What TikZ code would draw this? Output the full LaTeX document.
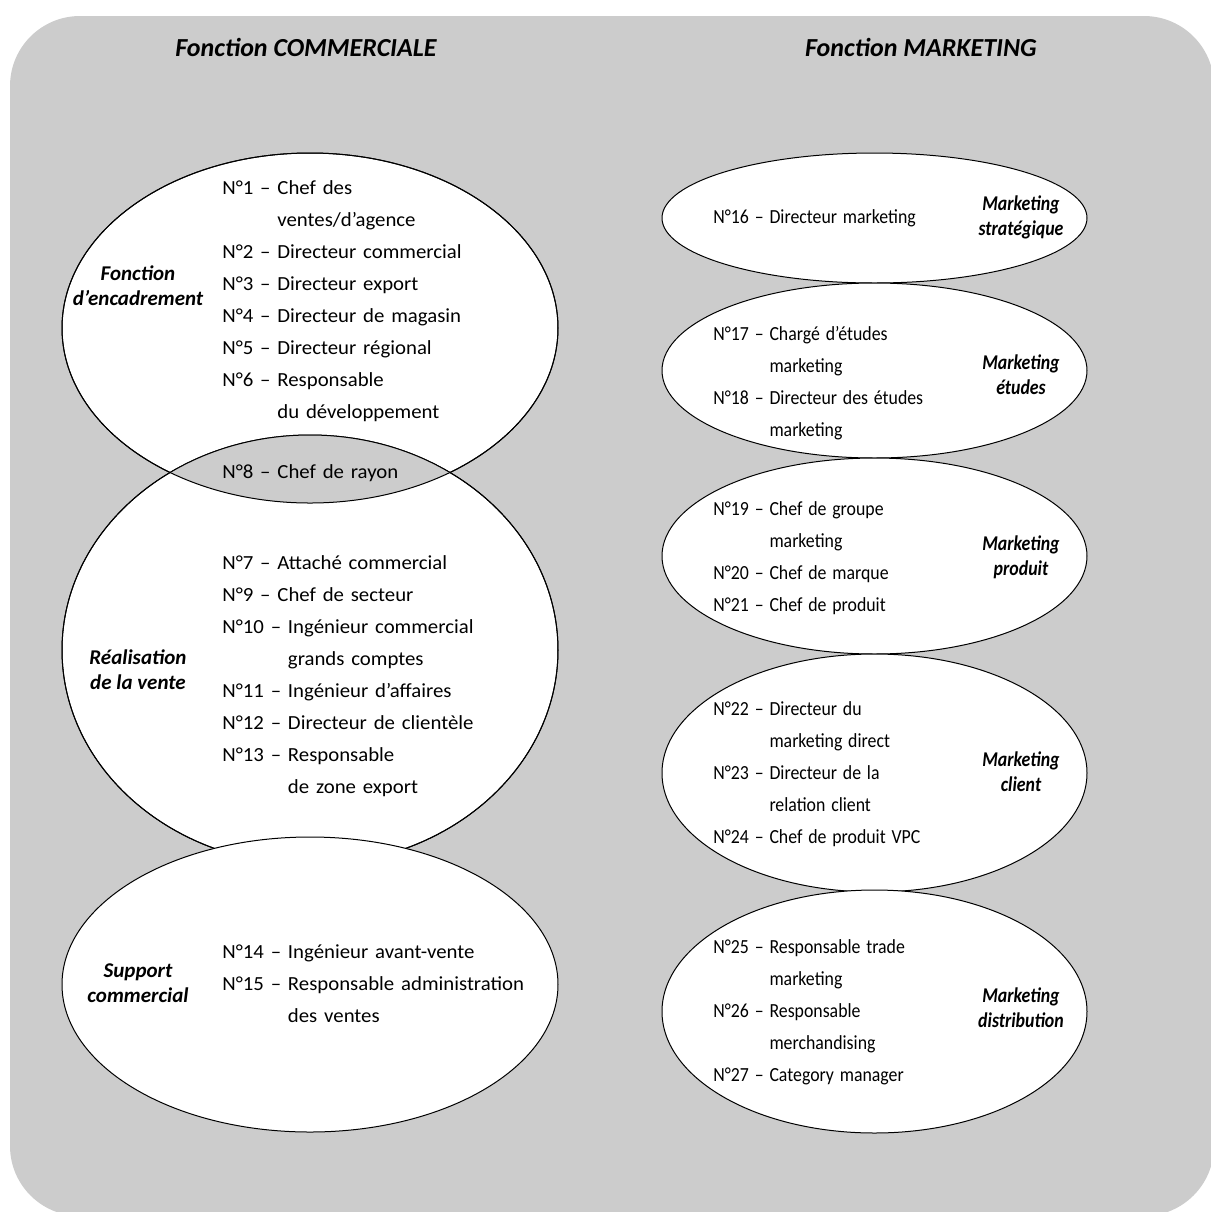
\documentclass[tikz,border=0pt]{standalone}
\usepackage{fontspec}
\setmainfont{Carlito}
\newfontfamily\policelarge[FakeStretch=1.04, WordSpace=1.45]{Carlito}
\newfontfamily\policeetroite[FakeStretch=0.89, WordSpace=1.45]{Carlito}
\newfontfamily\policeserree[FakeStretch=0.85]{Carlito}
\usepackage{tikz}
\usetikzlibrary{shapes.geometric}

\definecolor{fond}{HTML}{CCCCCC}
\newcommand{\suite}[1]{\phantom{#1}}

\begin{document}
\begin{tikzpicture}[
    x=0.5pt, y=-0.5pt,
    blob/.style={ellipse, draw, fill=white, inner sep=0pt, line width=0.5pt},
    poste/.style={anchor=north west, inner sep=0pt, align=left, font=\policelarge\fontsize{10}{16}\selectfont},
    posteD/.style={poste, font=\policeetroite\fontsize{10}{16}\selectfont},
    domaine/.style={align=center, inner sep=0pt, font=\bfseries\itshape\fontsize{10.5}{12.5}\selectfont},
    domaineD/.style={domaine, font=\policeserree\bfseries\itshape\fontsize{10.5}{12.5}\selectfont},
    titre/.style={inner sep=0pt, font=\bfseries\itshape\fontsize{13}{15}\selectfont}
]
\useasboundingbox (0,0) rectangle (1211,1212);
\fill[fond, rounded corners=35pt] (10,16) rectangle (1214,1216);

\node[titre] (tcom) at (306,47) {Fonction COMMERCIALE};
\node[titre] (tmkt) at (921,47) {Fonction MARKETING};

% cote commercial
\node[blob, minimum width=248pt, minimum height=175pt] (enc) at (310,328) {};
\node[blob, minimum width=248pt, minimum height=215pt] (vente) at (310,650) {};
\begin{scope}
  \clip (enc.center) ellipse [x radius=124pt, y radius=87.5pt];
  \fill[fond] (vente.center) ellipse [x radius=124pt, y radius=107.5pt];
\end{scope}
\draw[line width=0.5pt] (enc.center) ellipse [x radius=124pt, y radius=87.5pt];
\draw[line width=0.5pt] (vente.center) ellipse [x radius=124pt, y radius=107.5pt];
\node[blob, minimum width=248pt, minimum height=147.5pt] (support) at (310,984.5) {};

\node[domaine] (lenc) at (138,285.5) {Fonction\\d’encadrement};
\node[poste] (penc) at (222,180) {N°1 – Chef des\\\suite{N°1 – }ventes/d’agence\\
  N°2 – Directeur commercial\\N°3 – Directeur export\\N°4 – Directeur de magasin\\
  N°5 – Directeur régional\\N°6 – Responsable\\\suite{N°6 – }du développement};
\node[poste] (prayon) at (222,464.5) {N°8 – Chef de rayon};

\node[domaine] (lvente) at (138,670) {Réalisation\\de la vente};
\node[poste] (pvente) at (222,555.5) {N°7 – Attaché commercial\\N°9 – Chef de secteur\\
  N°10 – Ingénieur commercial\\\suite{N°10 – }grands comptes\\N°11 – Ingénieur d’affaires\\
  N°12 – Directeur de clientèle\\N°13 – Responsable\\\suite{N°13 – }de zone export};

\node[domaine] (lsupport) at (138,983) {Support\\commercial};
\node[poste] (psupport) at (222,944.5) {N°14 – Ingénieur avant-vente\\
  N°15 – Responsable administration\\\suite{N°15 – }des ventes};

% cote marketing
\node[blob, minimum width=212.5pt, minimum height=65pt] (strat) at (874.5,218) {};
\node[blob, minimum width=212.5pt, minimum height=87.5pt] (etudes) at (874.5,370.5) {};
\node[blob, minimum width=212.5pt, minimum height=98pt] (produit) at (874.5,556) {};
\node[blob, minimum width=212.5pt, minimum height=119pt] (client) at (874.5,773) {};
\node[blob, minimum width=212.5pt, minimum height=121.5pt] (distrib) at (874.5,1011.5) {};

\node[domaineD] (lstrat) at (1021,217.5) {Marketing\\stratégique};
\node[posteD] (pstrat) at (713,209.5) {N°16 – Directeur marketing};

\node[domaineD] (letudes) at (1021,375) {Marketing\\études};
\node[posteD] (petudes) at (713,325.5) {N°17 – Chargé d’études\\\suite{N°17 – }marketing\\
  N°18 – Directeur des études\\\suite{N°18 – }marketing};

\node[domaineD] (lproduit) at (1021,557.5) {Marketing\\produit};
\node[posteD] (pproduit) at (713,501.5) {N°19 – Chef de groupe\\\suite{N°19 – }marketing\\
  N°20 – Chef de marque\\N°21 – Chef de produit};

\node[domaineD] (lclient) at (1021,772) {Marketing\\client};
\node[posteD] (pclient) at (713,701.5) {N°22 – Directeur du\\\suite{N°22 – }marketing direct\\
  N°23 – Directeur de la\\\suite{N°23 – }relation client\\N°24 – Chef de produit VPC};

\node[domaineD] (ldistrib) at (1021,1008) {Marketing\\distribution};
\node[posteD] (pdistrib) at (713,939.5) {N°25 – Responsable trade\\\suite{N°25 – }marketing\\
  N°26 – Responsable\\\suite{N°26 – }merchandising\\N°27 – Category manager};
\end{tikzpicture}
\end{document}
